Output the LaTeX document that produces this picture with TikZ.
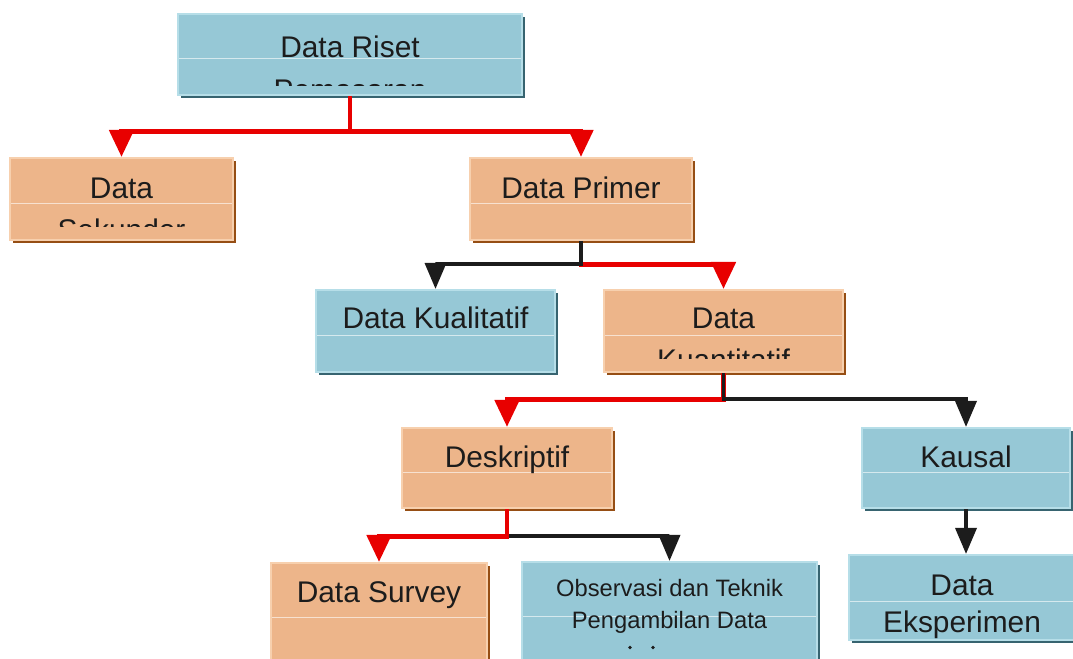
\documentclass[tikz,border=0pt]{standalone}
\usepackage{fontspec}
\setmainfont{Liberation Sans}
\usetikzlibrary{positioning,shadows,arrows.meta}

\definecolor{biruisi}{RGB}{150,200,214}
\definecolor{biruterang}{RGB}{182,222,232}
\definecolor{birutua}{RGB}{55,100,112}
\definecolor{jinggaisi}{RGB}{237,181,138}
\definecolor{jinggaterang}{RGB}{247,208,174}
\definecolor{jinggatua}{RGB}{150,78,20}
\definecolor{merah}{RGB}{232,0,0}
\definecolor{hitam}{RGB}{28,28,28}

\tikzstyle{kotak}= [rectangle,inner sep=0pt,line width=1.2pt,
  path picture={\draw[white,opacity=0.6,line width=0.5pt]
    ([yshift=-0.08cm]path picture bounding box.west) -- ([yshift=-0.08cm]path picture bounding box.east);}]
\tikzstyle{biru}= [kotak,draw=biruterang,fill=biruisi,
  general shadow={fill=birutua,shadow xshift=0.06cm,shadow yshift=-0.06cm}]
\tikzstyle{jingga}= [kotak,draw=jinggaterang,fill=jinggaisi,
  general shadow={fill=jinggatua,shadow xshift=0.06cm,shadow yshift=-0.06cm}]
\tikzstyle{teks}= [anchor=base,inner sep=0pt,text=hitam,font=\fontsize{17}{20}\selectfont]
\tikzstyle{tekskecil}= [teks,font=\fontsize{13.5}{16}\selectfont]
\tikzstyle{titik}= [circle,fill=hitam,inner sep=0pt,minimum size=2.2pt]
\tikzstyle{panahmerah}= [draw=merah,line width=2.8pt,-{Triangle[width=0.48cm,length=0.54cm]}]
\tikzstyle{panahhitam}= [draw=hitam,line width=2pt,-{Triangle[width=0.42cm,length=0.52cm]}]

\begin{document}
\begin{tikzpicture}

		\clip (0,0) rectangle (21.46,-13.16);
		\useasboundingbox (0,0) rectangle (21.46,-13.16);

		\node (riset) at (7.00,-1.09) [biru,minimum width=6.88cm,minimum height=1.62cm] {};
		\node (sekunder) at (2.43,-3.98) [jingga,minimum width=4.46cm,minimum height=1.64cm] {};
		\node (primer) at (11.62,-3.98) [jingga,minimum width=4.44cm,minimum height=1.64cm] {};
		\node (kualitatif) at (8.71,-6.62) [biru,minimum width=4.78cm,minimum height=1.64cm] {};
		\node (kuantitatif) at (14.47,-6.62) [jingga,minimum width=4.78cm,minimum height=1.64cm] {};
		\node (deskriptif) at (10.14,-9.36) [jingga,minimum width=4.20cm,minimum height=1.60cm] {};
		\node (kausal) at (19.32,-9.36) [biru,minimum width=4.16cm,minimum height=1.60cm] {};
		\node (survey) at (7.58,-12.26) [jingga,minimum width=4.32cm,minimum height=2.00cm] {};
		\node (observasi) at (13.39,-12.24) [biru,minimum width=5.90cm,minimum height=2.00cm] {};
		\node (eksperimen) at (19.38,-11.95) [biru,minimum width=4.80cm,minimum height=1.70cm] {};

		% teks dalam kotak
		\node (risetA) at (7.00,-1.14) [teks] {Data Riset};
		\begin{scope}
			\clip (3.56,-0.28) rectangle (10.44,-1.70);
			\node (risetB) at (7.00,-2.00) [teks] {Pemasaran};
		\end{scope}

		\node (sekunderA) at (2.43,-3.96) [teks] {Data};
		\begin{scope}
			\clip (0.20,-3.16) rectangle (4.66,-4.52);
			\node (sekunderB) at (2.43,-4.80) [teks] {Sekunder};
		\end{scope}

		\node (primerA) at (11.62,-3.96) [teks] {Data Primer};

		\node (kualitatifA) at (8.71,-6.56) [teks] {Data Kualitatif};

		\node (kuantitatifA) at (14.47,-6.56) [teks] {Data};
		\begin{scope}
			\clip (12.08,-5.80) rectangle (16.86,-7.16);
			\node (kuantitatifB) at (14.47,-7.40) [teks] {Kuantitatif};
		\end{scope}

		\node (deskriptifA) at (10.14,-9.34) [teks] {Deskriptif};
		\node (kausalA) at (19.32,-9.34) [teks] {Kausal};
		\node (surveyA) at (7.58,-12.04) [teks] {Data Survey};

		\node (observasiA) at (13.39,-11.92) [tekskecil] {Observasi dan Teknik};
		\node (observasiB) at (13.39,-12.56) [tekskecil] {Pengambilan Data};
		\node (titikA) at (12.60,-12.95) [titik] {};
		\node (titikB) at (13.06,-12.95) [titik] {};

		\node (eksperimenA) at (19.24,-11.90) [teks] {Data};
		\node (eksperimenB) at (19.24,-12.64) [teks] {Eksperimen};

		% cabang
		\coordinate [below=0.70cm of riset.south] (j1);
		\coordinate [below=0.46cm of primer.south] (j2);
		\coordinate [below=0.52cm of kuantitatif.south] (j3);
		\coordinate [below=0.54cm of deskriptif.south] (j4);

		\draw[panahmerah] (riset.south) -- (j1) -| (sekunder.north);
		\draw[panahmerah] (j1) -| (primer.north);

		\draw[panahmerah] (primer.south) -- (j2) -| (kuantitatif.north);
		\draw[panahhitam] (primer.south) -- (j2) -| (kualitatif.north);

		\draw[panahmerah] (kuantitatif.south) -- (j3) -| (deskriptif.north);
		\draw[panahhitam] (kuantitatif.south) -- (j3) -| (kausal.north);

		\draw[panahhitam] (deskriptif.south) -- (j4) -| (observasi.north);
		\draw[panahmerah] (deskriptif.south) -- (j4) -| (survey.north);

		\draw[panahhitam] (kausal.south) -- (kausal.south |- eksperimen.north);

\end{tikzpicture}
\end{document}
